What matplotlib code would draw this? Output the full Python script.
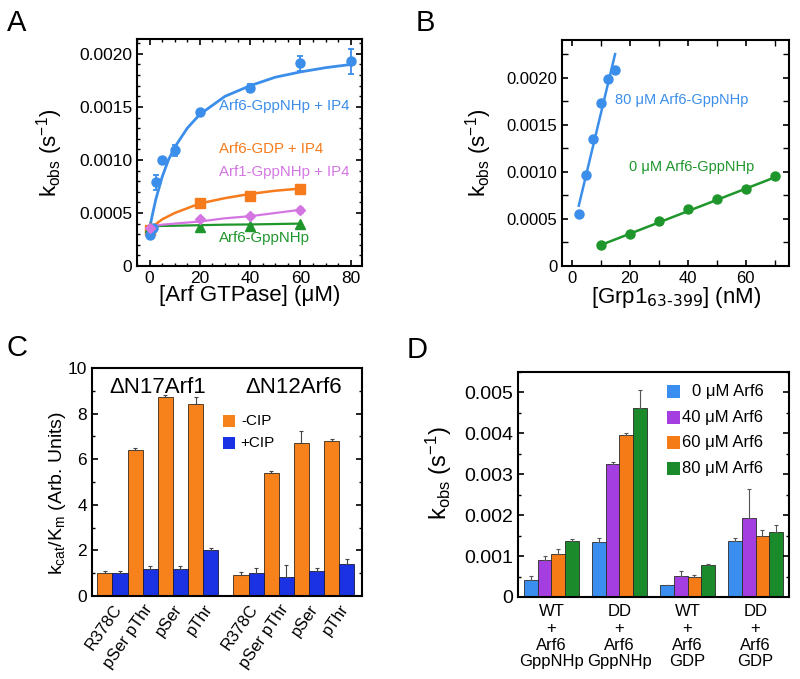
import matplotlib
matplotlib.use('Agg')
import matplotlib.pyplot as plt
from matplotlib.patches import Rectangle
from matplotlib.ticker import MultipleLocator, FuncFormatter
import numpy as np

plt.rcParams['font.family'] = ['Liberation Sans', 'DejaVu Sans']
plt.rcParams['mathtext.default'] = 'regular'
plt.rcParams['axes.linewidth'] = 1.5
plt.rcParams['xtick.direction'] = 'in'
plt.rcParams['ytick.direction'] = 'in'
plt.rcParams['xtick.major.width'] = 1.2
plt.rcParams['ytick.major.width'] = 1.2
plt.rcParams['xtick.minor.width'] = 1.0
plt.rcParams['ytick.minor.width'] = 1.0
plt.rcParams['xtick.major.size'] = 4
plt.rcParams['ytick.major.size'] = 4
plt.rcParams['xtick.minor.size'] = 2.5
plt.rcParams['ytick.minor.size'] = 2.5

# ---- panel A : kobs vs [Arf GTPase]
a_x_blue = [0, 1.25, 2.5, 5, 10, 20, 40, 60, 80]
a_k_blue = [0.00029, 0.00036, 0.00079, 0.00100, 0.00109, 0.00145, 0.00168, 0.00191, 0.00193]
a_err_blue = [0.00003, 0.00002, 0.00007, 0.00002, 0.00005, 0.00002, 0.00004, 0.00007, 0.00012]
a_x_other = [0, 20, 40, 60]
a_k_orange = [0.00034, 0.00059, 0.00066, 0.00073]
a_k_violet = [0.00036, 0.00044, 0.00047, 0.00053]
a_err_violet = [0.00002, 0.00002, 0.00002, 0.00003]
a_k_green = [0.00037, 0.00037, 0.00038, 0.00040]
# fitted curves
a_fit_x = [0, 1, 2.5, 5, 7.5, 10, 15, 20, 30, 40, 50, 60, 70, 80]
a_fit_blue = [0.00035, 0.00047, 0.00063, 0.00084, 0.00100, 0.00112, 0.00130, 0.00143,
              0.00160, 0.00170, 0.00178, 0.00183, 0.00187, 0.00190]
a_fitx_short = [0, 5, 10, 20, 30, 40, 50, 60]
a_fit_orange = [0.00035, 0.00044, 0.00050, 0.00059, 0.00064, 0.00068, 0.00071, 0.00073]
a_fit_violet = [0.00037, 0.00039, 0.00040, 0.00042, 0.00045, 0.00047, 0.00050, 0.00053]
a_fit_green = [0.000375, 0.000378, 0.00038, 0.000385, 0.00039, 0.000392, 0.000396, 0.0004]

# ---- panel B : kobs vs [Grp1]
b_x_80 = [2.5, 5, 7.5, 10, 12.5, 15]
b_k_80 = [0.00055, 0.00096, 0.00135, 0.00173, 0.00199, 0.00208]
b_line80_x = [2.5, 15]
b_line80_k = [0.00064, 0.00225]
b_x_0 = [10, 20, 30, 40, 50, 60, 70]
b_k_0 = [0.00022, 0.00034, 0.00048, 0.00060, 0.00071, 0.00082, 0.00095]
b_line0_x = [10, 70]
b_line0_k = [0.00022, 0.00094]

# ---- panel C : kcat/Km
c_labels = ['R378C', 'pSer pThr', 'pSer', 'pThr', 'R378C', 'pSer pThr', 'pSer', 'pThr']
c_minus = [1.0, 6.42, 8.72, 8.42, 0.93, 5.40, 6.72, 6.82]
c_minus_err = [0.08, 0.08, 0.08, 0.32, 0.12, 0.10, 0.50, 0.07]
c_plus = [1.0, 1.2, 1.2, 2.0, 1.0, 0.84, 1.1, 1.4]
c_plus_err = [0.08, 0.10, 0.10, 0.10, 0.21, 0.52, 0.12, 0.22]
c_groups = ['\u0394N17Arf1', '\u0394N12Arf6']

# ---- panel D : kobs bars
d_labels = ['WT\n+\nArf6\nGppNHp', 'DD\n+\nArf6\nGppNHp', 'WT\n+\nArf6\nGDP', 'DD\n+\nArf6\nGDP']
d_series = ['0 \u03bcM Arf6', '40 \u03bcM Arf6', '60 \u03bcM Arf6', '80 \u03bcM Arf6']
d_vals = [[0.00041, 0.00135, 0.00029, 0.00136],
          [0.00091, 0.00325, 0.00052, 0.00192],
          [0.00105, 0.00395, 0.00050, 0.00149],
          [0.00136, 0.00462, 0.00077, 0.00159]]
d_errs = [[0.00010, 0.00008, 0.00001, 0.00008],
          [0.00008, 0.00005, 0.00012, 0.00072],
          [0.00012, 0.00005, 0.00003, 0.00015],
          [0.00005, 0.00045, 0.00003, 0.00016]]

blue = '#3b8ee9'
orange = '#f57b1c'
violet = '#d476e2'
green = '#1f962c'


def kfmt(v, pos):
    if abs(v) < 1e-12:
        return '0'
    return '%.4f' % v


fig = plt.figure(figsize=(8, 6.79), dpi=100)

# ---------------- A
axA = fig.add_axes([0.17125, 0.6082, 0.28125, 0.3343])
axA.plot(a_fit_x, a_fit_blue, color=blue, lw=2, zorder=2)
axA.errorbar(a_x_blue, a_k_blue, yerr=a_err_blue, fmt='o', color=blue, ms=6.5,
             capsize=2.5, elinewidth=1.3, capthick=1.3, zorder=3)
axA.plot(a_fitx_short, a_fit_orange, color=orange, lw=1.8, zorder=2)
axA.plot(a_x_other, a_k_orange, 's', color=orange, ms=6.5, zorder=3)
axA.plot(a_fitx_short, a_fit_green, color=green, lw=1.6, zorder=2)
axA.plot(a_x_other, a_k_green, '^', color=green, ms=6.5, zorder=3)
axA.plot(a_fitx_short, a_fit_violet, color=violet, lw=1.6, zorder=2)
axA.errorbar(a_x_other, a_k_violet, yerr=a_err_violet, fmt='D', color=violet, ms=5.5,
             capsize=2, elinewidth=1, zorder=4)
axA.set_xlim(-5, 84.5)
axA.set_ylim(0, 0.00214)
axA.xaxis.set_major_locator(MultipleLocator(20))
axA.xaxis.set_minor_locator(MultipleLocator(5))
axA.yaxis.set_major_locator(MultipleLocator(0.0005))
axA.yaxis.set_minor_locator(MultipleLocator(0.0001))
axA.yaxis.set_major_formatter(FuncFormatter(kfmt))
axA.tick_params(which='both', top=True, right=True, labelsize=12.5)
axA.text(27.5, 0.001507, 'Arf6-GppNHp + IP4', color=blue, fontsize=10.8, va='center')
axA.text(27.5, 0.001099, 'Arf6-GDP + IP4', color=orange, fontsize=10.8, va='center')
axA.text(27.5, 0.00089, 'Arf1-GppNHp + IP4', color=violet, fontsize=10.8, va='center')
axA.text(27.5, 0.000263, 'Arf6-GppNHp', color=green, fontsize=10.8, va='center')
axA.set_xlabel('[Arf GTPase] (\u03bcM)', fontsize=16)
axA.set_ylabel('k$_{obs}$ (s$^{-1}$)', fontsize=16)
axA.xaxis.set_label_coords(0.5, -0.085)
axA.yaxis.set_label_coords(-0.32, 0.5)

# ---------------- B
axB = fig.add_axes([0.7028, 0.6085, 0.2838, 0.3326])
axB.plot(b_line80_x, b_line80_k, color=blue, lw=1.8)
axB.plot(b_x_80, b_k_80, 'o', color=blue, ms=6.5)
axB.plot(b_line0_x, b_line0_k, color=green, lw=1.8)
axB.plot(b_x_0, b_k_0, 'o', color=green, ms=6.5)
axB.set_xlim(-3.2, 75)
axB.set_ylim(0, 0.0024)
axB.xaxis.set_major_locator(MultipleLocator(20))
axB.xaxis.set_minor_locator(MultipleLocator(10))
axB.yaxis.set_major_locator(MultipleLocator(0.0005))
axB.yaxis.set_minor_locator(MultipleLocator(0.00025))
axB.yaxis.set_major_formatter(FuncFormatter(kfmt))
axB.tick_params(which='both', top=True, right=True, labelsize=12)
axB.tick_params(which='minor', length=4)
axB.text(15, 0.00176, '80 \u03bcM Arf6-GppNHp', color=blue, fontsize=10.5, va='center')
axB.text(19.8, 0.00105, '0 \u03bcM Arf6-GppNHp', color=green, fontsize=10.5, va='center')
axB.set_xlabel(r'[Grp1$_{\text{63-399}}$] (nM)', fontsize=16)
axB.set_ylabel('k$_{obs}$ (s$^{-1}$)', fontsize=16)
axB.xaxis.set_label_coords(0.5, -0.085)
axB.yaxis.set_label_coords(-0.30, 0.5)

# ---------------- C
axC = fig.add_axes([0.115, 0.1222, 0.3375, 0.3358])
c_pos = np.array([0, 1, 2, 3, 4.5, 5.5, 6.5, 7.5])
zeros = np.zeros(len(c_pos))
ekw = dict(ecolor='#444444', elinewidth=0.8, capsize=1.5, capthick=0.8)
axC.bar(c_pos - 0.25, c_minus, width=0.5, color='#f7821b', edgecolor='#3a2a1a', lw=0.6,
        yerr=[zeros, c_minus_err], error_kw=ekw)
axC.bar(c_pos + 0.25, c_plus, width=0.5, color='#1a32e3', edgecolor='#1a1a3a', lw=0.6,
        yerr=[zeros, c_plus_err], error_kw=ekw)
axC.set_xlim(-0.675, 8.25)
axC.set_ylim(0, 10)
axC.yaxis.set_major_locator(MultipleLocator(2))
axC.yaxis.set_minor_locator(MultipleLocator(1))
axC.set_xticks(c_pos)
axC.set_xticklabels(c_labels, rotation=55, ha='right', rotation_mode='anchor', fontsize=12)
axC.tick_params(axis='x', which='both', length=0, pad=4, top=False)
axC.tick_params(axis='y', which='both', right=True, labelsize=12.5)
axC.text(1.5, 9.15, c_groups[0], fontsize=16, ha='center', va='center')
axC.text(6.0, 9.15, c_groups[1], fontsize=16, ha='center', va='center')
axC.add_patch(Rectangle((0.485, 0.742), 0.044, 0.052, transform=axC.transAxes,
                        facecolor='#f7821b', edgecolor='none'))
axC.add_patch(Rectangle((0.485, 0.645), 0.044, 0.052, transform=axC.transAxes,
                        facecolor='#1a32e3', edgecolor='none'))
axC.text(0.555, 0.768, '-CIP', transform=axC.transAxes, fontsize=11, va='center')
axC.text(0.548, 0.671, '+CIP', transform=axC.transAxes, fontsize=11, va='center')
axC.set_ylabel('k$_{cat}$/K$_{m}$ (Arb. Units)', fontsize=14)
axC.yaxis.set_label_coords(-0.09, 0.45)

# ---------------- D
axD = fig.add_axes([0.6475, 0.1208, 0.33875, 0.3314])
d_colors = ['#3a8ef0', '#a43ee0', '#f57b17', '#1a8a2a']
d_centers = np.arange(len(d_labels)) * 5.0
d_offsets = [-1.5, -0.5, 0.5, 1.5]
dz = np.zeros(len(d_labels))
for i in range(len(d_series)):
    axD.bar(d_centers + d_offsets[i], d_vals[i], width=1, color=d_colors[i],
            edgecolor='#2a2a2a', lw=0.6, yerr=[dz, d_errs[i]],
            error_kw=dict(ecolor='#555555', elinewidth=0.8, capsize=1.5, capthick=0.8))
axD.set_xlim(-2.46, 17.46)
axD.set_ylim(0, 0.0055)
axD.yaxis.set_major_locator(MultipleLocator(0.001))
axD.yaxis.set_minor_locator(MultipleLocator(0.0005))
axD.yaxis.set_major_formatter(FuncFormatter(lambda v, p: '0' if abs(v) < 1e-12 else '%.3f' % v))
axD.set_xticks(d_centers)
axD.set_xticklabels(d_labels, fontsize=12, linespacing=1.15)
axD.tick_params(axis='x', which='both', length=0, pad=5, top=False)
axD.tick_params(axis='y', which='both', right=True, labelsize=14)
leg_y = [0.912, 0.799, 0.686, 0.572]
for i in range(len(d_series)):
    axD.add_patch(Rectangle((0.55, leg_y[i] - 0.029), 0.048, 0.058, transform=axD.transAxes,
                            facecolor=d_colors[i], edgecolor='none'))
    axD.text(0.905, leg_y[i], d_series[i], transform=axD.transAxes, fontsize=12,
             ha='right', va='center')
axD.set_ylabel('k$_{obs}$ (s$^{-1}$)', fontsize=17)
axD.yaxis.set_label_coords(-0.235, 0.55)

# panel letters
fig.text(7 / 800, 1 - 23 / 679, 'A', fontsize=21, va='center')
fig.text(416 / 800, 1 - 23 / 679, 'B', fontsize=21, va='center')
fig.text(7 / 800, 1 - 348 / 679, 'C', fontsize=21, va='center')
fig.text(407 / 800, 1 - 350 / 679, 'D', fontsize=21, va='center')

fig.savefig('out.png', dpi=100)
